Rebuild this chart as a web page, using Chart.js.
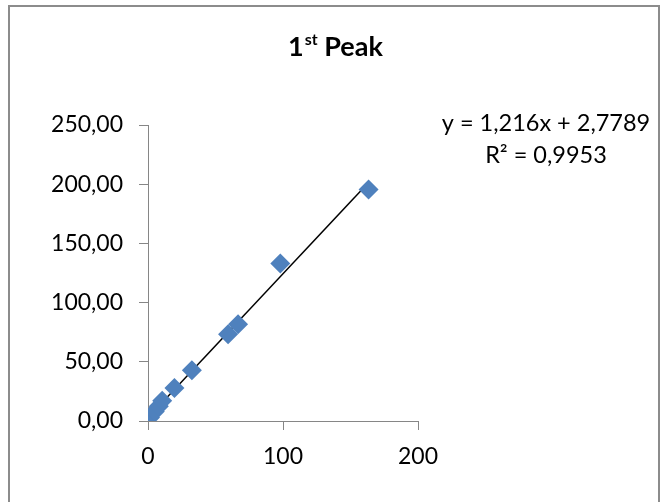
<!DOCTYPE html>
<html>
<head>
<meta charset="utf-8">
<script src="https://cdn.jsdelivr.net/npm/chart.js@4.4.1/dist/chart.umd.min.js"></script>
<style>
html,body{margin:0;padding:0;background:#fff;}
#wrap{width:662px;height:502px;position:relative;}
</style>
</head>
<body>
<div id="wrap"><canvas id="c" width="662" height="502"></canvas></div>
<script>
// ---- data ----
const xValues = [1.5, 5.0, 8.0, 10.5, 19.6, 32.5, 59.3, 66.7, 98.0, 163.4];
const yValues = [3.0, 8.0, 12.5, 17.0, 27.9, 42.9, 73.3, 81.7, 133.1, 195.6];
const yTickValues = [0, 50, 100, 150, 200, 250];
const xTickValues = [0, 100, 200];
const trendSlope = 1.216;
const trendIntercept = 2.7789;
const trendLabel = "y = 1,216x + 2,7789";
const r2Label = "R\u00B2 = 0,9953";
const titleMain = "1";
const titleSup = "st";
const titleRest = " Peak";

const FONT = "Lato, 'Open Sans', sans-serif";

const points = xValues.map((x, i) => ({x: x, y: yValues[i]}));
const xMin = Math.min(...xValues), xMax = Math.max(...xValues);
const trendPts = [xMin, xMax].map(x => ({x: x, y: trendSlope * x + trendIntercept}));

const decor = {
  id: 'decor',
  afterDraw(chart) {
    const ctx = chart.ctx;
    ctx.save();
    // frame
    ctx.strokeStyle = '#8c8c8c';
    ctx.lineWidth = 2;
    ctx.strokeRect(9, 6, 650, 520);
    // title
    ctx.fillStyle = '#000';
    ctx.textBaseline = 'alphabetic';
    ctx.textAlign = 'left';
    const big = "bold 27px " + FONT, small = "bold 16px " + FONT;
    ctx.font = big; const w1 = ctx.measureText(titleMain).width; const w3 = ctx.measureText(titleRest).width;
    ctx.font = small; const w2 = ctx.measureText(titleSup).width;
    let x = 335 - (w1 + w2 + w3) / 2;
    const base = 56;
    ctx.font = big; ctx.fillText(titleMain, x, base); x += w1;
    ctx.font = small; ctx.fillText(titleSup, x + 1, base - 11); x += w2 + 1;
    ctx.font = big; ctx.fillText(titleRest, x, base);
    // equation
    ctx.textAlign = 'center';
    ctx.font = "23.5px " + FONT;
    ctx.fillText(trendLabel, 546, 131);
    ctx.fillText(r2Label, 546, 163);
    ctx.restore();
  }
};

new Chart(document.getElementById('c'), {
  type: 'scatter',
  data: {
    datasets: [
      {
        label: 'Trend',
        data: trendPts,
        showLine: true,
        borderColor: '#000',
        borderWidth: 1.5,
        pointRadius: 0,
        fill: false,
        order: 2
      },
      {
        label: '1st Peak',
        data: points,
        pointStyle: 'rectRot',
        pointRadius: 10,
        pointHoverRadius: 10,
        backgroundColor: '#4F81BD',
        borderColor: '#4F81BD',
        borderWidth: 0,
        order: 1
      }
    ]
  },
  plugins: [decor],
  options: {
    responsive: false,
    animation: false,
    events: [],
    layout: {padding: {left: 48, top: 125, right: 244, bottom: 0}},
    plugins: {legend: {display: false}, title: {display: false}, tooltip: {enabled: false}},
    scales: {
      x: {
        type: 'linear',
        min: 0, max: 200,
        afterBuildTicks: s => { s.ticks = xTickValues.map(v => ({value: v})); },
        afterFit: s => { s.height = 81; },
        grid: {drawOnChartArea: false, drawTicks: true, tickLength: 9, color: '#868686', tickColor: '#868686'},
        border: {display: true, color: '#868686', width: 1},
        ticks: {color: '#000', font: {family: FONT, size: 23}, padding: 13, maxRotation: 0, callback: v => String(v)}
      },
      y: {
        type: 'linear',
        min: 0, max: 250,
        afterBuildTicks: s => { s.ticks = yTickValues.map(v => ({value: v})); },
        afterFit: s => { s.width = 100; },
        grid: {drawOnChartArea: false, drawTicks: true, tickLength: 9, color: '#868686', tickColor: '#868686'},
        border: {display: true, color: '#868686', width: 1},
        ticks: {color: '#000', font: {family: FONT, size: 23}, padding: 16, callback: v => v.toFixed(2).replace('.', ',')}
      }
    }
  }
});
</script>
</body>
</html>
